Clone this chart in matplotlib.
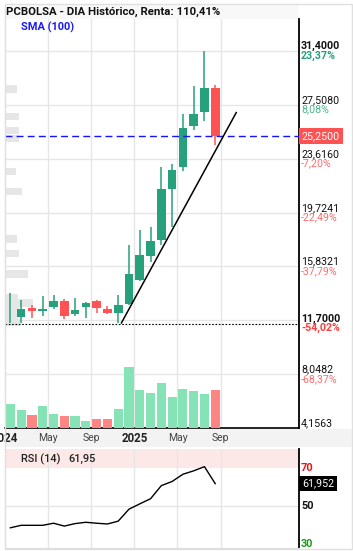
import matplotlib
matplotlib.use("Agg")
import matplotlib.pyplot as plt
from matplotlib.patches import Rectangle

plt.rcParams['font.family'] = ['Roboto', 'DejaVu Sans']

W, H = 353, 551

# monthly candles, Jan 2024 .. Aug 2025
opens  = [12.45, 12.15, 12.80, 12.62, 12.88, 13.30, 12.42, 12.92, 13.30, 12.74, 12.50,
          13.12, 14.88, 16.55, 17.72, 21.46, 23.05, 26.01, 27.02, 28.74]
closes = [12.50, 12.78, 12.64, 12.77, 13.30, 12.28, 12.70, 13.20, 12.80, 12.50, 13.07,
          15.31, 16.65, 17.70, 21.46, 22.80, 25.83, 26.85, 28.74, 25.25]
highs  = [13.90, 13.40, 13.06, 13.70, 13.78, 13.46, 13.56, 13.26, 13.40, 13.00, 13.78,
          17.40, 18.48, 18.70, 23.03, 23.25, 26.85, 28.87, 31.40, 28.92]
lows   = [11.72, 11.75, 12.10, 12.25, 12.75, 12.05, 12.25, 12.10, 12.50, 12.42, 11.75,
          13.05, 14.80, 16.18, 17.35, 18.65, 22.75, 25.71, 26.34, 24.57]
volumes = [68, 51, 36, 63, 40, 33, 33, 20, 26, 26, 53, 175, 108, 100, 128, 88, 111, 105, 96, 108]
rsi = [38.7, 40.0, 40.0, 40.0, 41.1, 39.6, 40.9, 41.6, 41.1, 40.7, 42.2,
       48.5, 51.3, 54.0, 60.9, 63.1, 66.9, 68.7, 70.9, 61.952]

month_ticks = [0, 4, 8, 12, 16, 20]
month_labels = ["2024", "May", "Sep", "2025", "May", "Sep"]
year_labels = ["2024", "2025"]

price_levels = [31.4, 27.508, 23.616, 19.7241, 15.8321, 11.7, 8.0482, 4.1563]
price_pcts = ["23,37%", "8,08%", "-7,20%", "-22,49%", "-37,79%", "-54,02%", "-68,37%", ""]
bold_levels = [31.4, 11.7]
grid_levels = [31.4, 27.508, 23.616, 19.7241, 15.8321, 11.9402, 8.0482, 4.1563]

# volume-by-price profile at the left edge
profile_prices = [28.65, 26.67, 25.66, 25.08, 22.69, 21.25, 17.82, 16.77, 15.29, 13.56, 13.2, 12.74, 12.25, 11.77]
profile_sizes  = [1.1, 1.3, 1.3, 1.3, 1.0, 1.6, 1.1, 1.3, 2.1, 1.2, 2.6, 1.3, 1.2, 1.4]

trend_x = [10.8, 21.45]
trend_y = [11.75, 26.95]

rsi_levels = [70, 50, 30]
rsi_colors = ['#f01010', '#111111', '#1a9a1a']

GREEN = '#26a17b'
RED = '#ff5252'
GRID = '#e6e6e6'

x = [i + 0.5 for i in range(len(opens))]

fig = plt.figure(figsize=(W / 100, H / 100), dpi=100)

def rect(x0, y0, x1, y1, **kw):
    fig.add_artist(Rectangle((x0 / W, 1 - y1 / H), (x1 - x0) / W, (y1 - y0) / H,
                             transform=fig.transFigure, **kw))

rect(5, 5, 299, 19, fc='#f8f8f8', ec='none', zorder=0)
rect(5, 429, 352, 447, fc='#f3f3f3', ec='none', zorder=0)
rect(5, 4, 352, 549, fill=False, ec='#e0e0e0', lw=1, zorder=10)

fig.text(6 / W, 1 - 12 / H, "PCBOLSA - DIA Histórico, Renta: 110,41%",
         fontsize=8.2, fontweight='bold', color='#111111', va='center')

# ---- main price panel ----
ax = fig.add_axes([5 / W, 1 - 428 / H, 294 / W, 409 / H])
ax.set_xlim(0, 27.27)
ax.set_ylim(4.1563, 33.71)
for g in grid_levels:
    ax.axhline(g, color=GRID, lw=1, zorder=0)
for t in month_ticks[1:]:
    ax.axvline(t, color=GRID, lw=1, zorder=0)

ax.barh(profile_prices, profile_sizes, height=0.55, left=0, color='#e6e6e6', zorder=1)

for xi, o, h, l, c in zip(x, opens, highs, lows, closes):
    col = GREEN if c >= o else RED
    ax.vlines(xi, l, h, color=col, lw=1.1, zorder=3)
    ax.bar(xi, max(abs(c - o), 0.05), bottom=min(o, c), width=0.8, color=col, zorder=4)

ax.axhline(min(lows) - 0.02, color='black', lw=0.8, ls=(0, (1.5, 1.5)), zorder=5)
ax.axhline(closes[-1], color='#1414ff', lw=1, ls=(0, (5, 3)), zorder=5)
ax.plot(trend_x, trend_y, color='black', lw=1.1, zorder=6)

ax.text(16 / 294, 1 - 8 / 409, "SMA (100)", transform=ax.transAxes, color='#1a1aff',
        fontsize=7.9, fontweight='bold', va='center')

for lvl, pct in zip(price_levels, price_pcts):
    bold = lvl in bold_levels
    ax.annotate(f"{lvl:.4f}".replace('.', ','), xy=(1, lvl), xycoords=('axes fraction', 'data'),
                xytext=(2, 4.7), textcoords='offset pixels', ha='left', va='center',
                fontsize=7.7, fontweight='bold' if bold else 'normal', color='#111111',
                annotation_clip=False)
    if pct:
        neg = pct.startswith('-')
        if bold:
            pc = '#ff3d3d' if neg else GREEN
        else:
            pc = '#ff6b6b' if neg else '#4db88c'
        ax.annotate(pct, xy=(1, lvl), xycoords=('axes fraction', 'data'),
                    xytext=(2, -4.7), textcoords='offset pixels', ha='left', va='center',
                    fontsize=7.7, fontweight='bold' if bold else 'normal', color=pc,
                    annotation_clip=False)

ax.annotate(f"{closes[-1]:.4f}".replace('.', ','), xy=(1, closes[-1]),
            xycoords=('axes fraction', 'data'), xytext=(3, 0), textcoords='offset pixels',
            ha='left', va='center', fontsize=7.7, color='white', annotation_clip=False,
            bbox=dict(boxstyle='square,pad=0.25', fc=RED, ec='none'))

for t, lab in zip(month_ticks, month_labels):
    yr = lab in year_labels
    ax.annotate(lab, xy=(t, 0), xycoords=('data', 'axes fraction'), xytext=(0, -10),
                textcoords='offset pixels', ha='center', va='center',
                fontsize=8.3 if yr else 7.5, fontweight='bold' if yr else 'normal',
                color='#222222' if yr else '#444444', annotation_clip=False)

# volume overlay
axv = ax.twinx()
axv.set_ylim(0, 1164)
vcol = ['#86e3b5' if c >= o else '#ff8585' for o, c in zip(opens, closes)]
axv.bar(x, volumes, width=0.85, color=vcol, edgecolor='none')
axv.set_axis_off()

# twinx re-enables ticks on the main axes, so switch them off afterwards
ax.spines['top'].set_visible(False)
ax.spines['left'].set_color('#dddddd')
ax.spines['right'].set_color('black')
ax.spines['right'].set_linewidth(1.3)
ax.spines['bottom'].set_color('black')
ax.spines['bottom'].set_linewidth(1.2)
ax.tick_params(left=False, right=False, bottom=False, top=False,
               labelleft=False, labelright=False, labelbottom=False)

# ---- RSI panel ----
axr = fig.add_axes([5 / W, 1 - 548 / H, 294 / W, 99 / H])
axr.set_xlim(0, 27.27)
axr.set_ylim(28.05, 80.2)
axr.axhspan(70, 80.2, color='#fde8e8', lw=0, zorder=0)
axr.axhline(50, color=GRID, lw=1, zorder=0)
for t in month_ticks[1:]:
    axr.axvline(t, color=GRID, lw=1, zorder=0.5)
axr.plot(x, rsi, color='black', lw=1, zorder=3)
axr.spines['top'].set_visible(False)
axr.spines['left'].set_color('#dddddd')
axr.spines['bottom'].set_color('#dddddd')
axr.spines['right'].set_color('black')
axr.spines['right'].set_linewidth(1.3)
axr.tick_params(left=False, right=False, bottom=False, labelleft=False, labelbottom=False)

for lvl, col in zip(rsi_levels, rsi_colors):
    axr.annotate(str(lvl), xy=(1, lvl), xycoords=('axes fraction', 'data'), xytext=(2, 0),
                 textcoords='offset pixels', ha='left', va='center', fontsize=7.8,
                 fontweight='bold', color=col, annotation_clip=False)

axr.annotate(f"{rsi[-1]:.3f}".replace('.', ','), xy=(1, rsi[-1]), xycoords=('axes fraction', 'data'),
             xytext=(3, 0), textcoords='offset pixels', ha='left', va='center', fontsize=7.7,
             color='white', annotation_clip=False,
             bbox=dict(boxstyle='square,pad=0.25', fc='black', ec='none'))

axr.text(16 / 294, 1 - 10 / 99, "RSI (14)", transform=axr.transAxes, fontsize=7.9,
         fontweight='medium', color='#222222', va='center')
axr.text(63 / 294, 1 - 10 / 99, f"{rsi[-1]:.2f}".replace('.', ','), transform=axr.transAxes,
         fontsize=7.9, fontweight='medium', color='#222222', va='center')

fig.savefig("out.png", dpi=100)
